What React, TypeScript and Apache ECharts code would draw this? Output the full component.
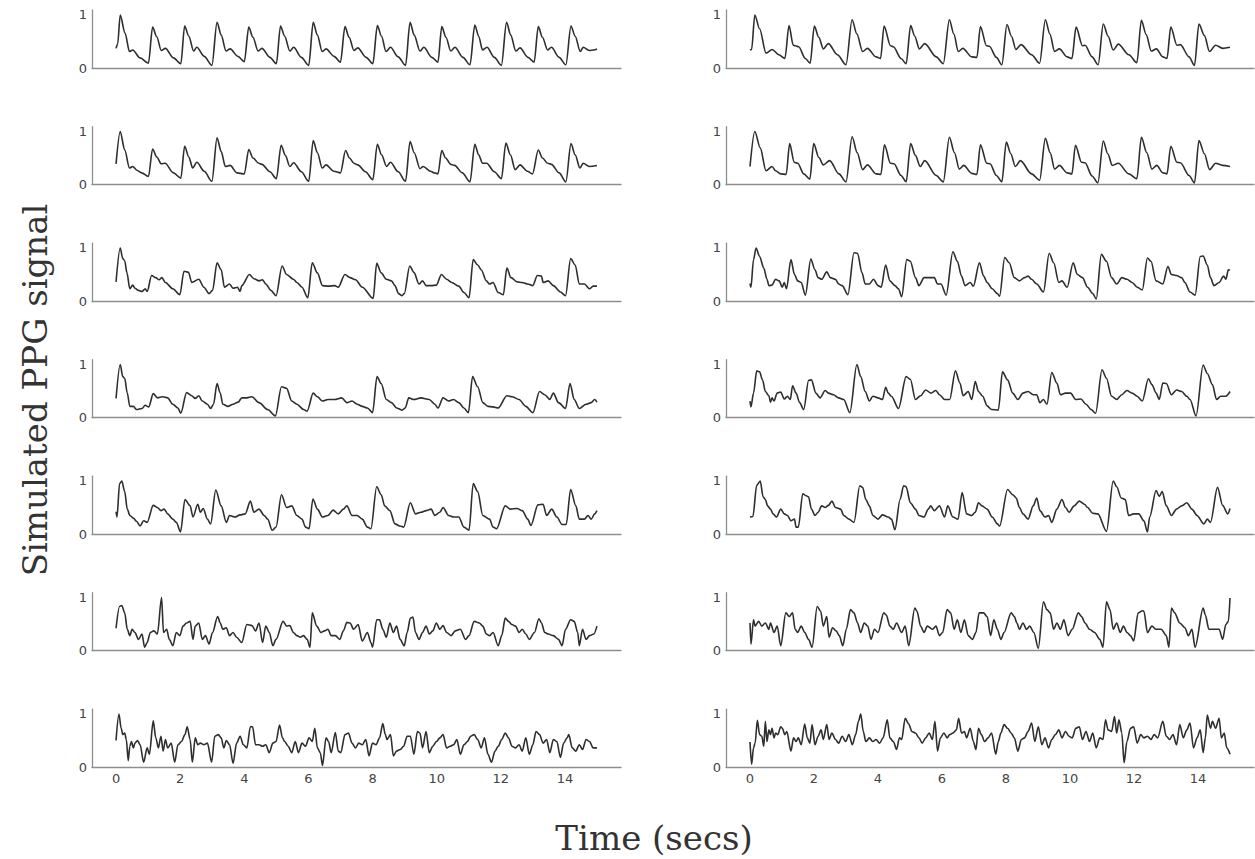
import React, { useEffect, useRef } from "react";
import * as echarts from "echarts";

type P = [number, number];

// Time (s), normalised PPG value
const leftRow1: P[] = [
  [0,0.37],[0.05,0.45],[0.13,1.0],[0.28,0.66],[0.42,0.31],[0.52,0.34],[0.75,0.19],[1.01,0.09],
  [1.14,0.77],[1.27,0.59],[1.41,0.33],[1.54,0.37],[1.79,0.19],[2.02,0.08],
  [2.14,0.79],[2.27,0.6],[2.42,0.32],[2.52,0.39],[2.75,0.22],[2.99,0.05],
  [3.15,0.86],[3.28,0.62],[3.43,0.32],[3.56,0.36],[3.8,0.22],[4.0,0.12],
  [4.14,0.77],[4.27,0.58],[4.43,0.32],[4.55,0.37],[4.8,0.2],[5.0,0.08],
  [5.13,0.79],[5.26,0.6],[5.42,0.32],[5.54,0.39],[5.78,0.2],[6.01,0.05],
  [6.15,0.86],[6.28,0.62],[6.43,0.31],[6.55,0.36],[6.8,0.22],[7.0,0.11],
  [7.14,0.78],[7.27,0.58],[7.42,0.33],[7.54,0.38],[7.8,0.2],[8.01,0.08],
  [8.15,0.8],[8.28,0.6],[8.42,0.31],[8.56,0.39],[8.8,0.21],[9.03,0.05],
  [9.17,0.86],[9.3,0.62],[9.48,0.32],[9.6,0.39],[9.85,0.2],[10.04,0.11],
  [10.16,0.78],[10.29,0.58],[10.44,0.32],[10.57,0.39],[10.82,0.2],[11.04,0.06],
  [11.19,0.81],[11.31,0.6],[11.43,0.34],[11.57,0.39],[11.8,0.2],[12.02,0.05],
  [12.18,0.86],[12.31,0.62],[12.47,0.32],[12.6,0.38],[12.85,0.2],[13.04,0.11],
  [13.17,0.78],[13.3,0.58],[13.46,0.34],[13.58,0.39],[13.82,0.2],[14.03,0.06],
  [14.19,0.79],[14.32,0.6],[14.48,0.31],[14.57,0.39],[14.76,0.33],[14.9,0.34],[15.0,0.36],
];

const leftRow2: P[] = [
  [0,0.39],[0.13,1.0],[0.27,0.65],[0.42,0.31],[0.52,0.34],[0.65,0.27],[0.8,0.22],[1.01,0.15],
  [1.14,0.67],[1.27,0.52],[1.41,0.39],[1.53,0.4],[1.79,0.22],[2.02,0.12],
  [2.14,0.72],[2.27,0.52],[2.39,0.31],[2.52,0.42],[2.75,0.25],[2.99,0.06],
  [3.15,0.88],[3.28,0.62],[3.41,0.34],[3.56,0.36],[3.77,0.22],[4.0,0.2],
  [4.14,0.66],[4.27,0.5],[4.45,0.4],[4.55,0.38],[4.8,0.24],[5.0,0.11],
  [5.15,0.74],[5.28,0.55],[5.42,0.34],[5.54,0.41],[5.78,0.24],[6.01,0.06],
  [6.15,0.83],[6.28,0.6],[6.43,0.31],[6.55,0.37],[6.79,0.25],[7.0,0.22],
  [7.16,0.64],[7.28,0.5],[7.42,0.4],[7.54,0.37],[7.78,0.24],[8.01,0.09],
  [8.15,0.76],[8.28,0.56],[8.44,0.34],[8.56,0.42],[8.8,0.24],[9.03,0.06],
  [9.17,0.81],[9.3,0.6],[9.48,0.3],[9.58,0.34],[9.81,0.25],[9.92,0.22],[10.04,0.2],
  [10.16,0.64],[10.28,0.5],[10.44,0.38],[10.56,0.36],[10.8,0.22],[11.04,0.05],
  [11.19,0.76],[11.31,0.56],[11.43,0.4],[11.56,0.4],[11.8,0.24],[12.02,0.11],
  [12.16,0.78],[12.3,0.56],[12.45,0.28],[12.6,0.37],[12.83,0.25],[12.99,0.2],
  [13.17,0.65],[13.3,0.5],[13.46,0.4],[13.58,0.38],[13.82,0.22],[14.03,0.05],
  [14.19,0.77],[14.32,0.56],[14.47,0.31],[14.57,0.4],[14.76,0.34],[15.0,0.36],
];

const leftRow3: P[] = [
  [0,0.36],[0.13,1.0],[0.21,0.8],[0.27,0.76],[0.34,0.53],[0.43,0.23],[0.52,0.3],[0.59,0.24],
  [0.7,0.2],[0.81,0.18],[0.91,0.23],[0.97,0.18],[1.11,0.48],[1.24,0.44],[1.34,0.4],[1.43,0.44],
  [1.54,0.35],[1.77,0.23],[1.99,0.12],[2.12,0.56],[2.26,0.54],[2.36,0.35],[2.58,0.41],[2.74,0.26],
  [2.9,0.14],[3.01,0.2],[3.15,0.72],[3.28,0.59],[3.38,0.26],[3.54,0.32],[3.65,0.24],[3.79,0.26],
  [3.87,0.18],[3.92,0.29],[4.16,0.5],[4.3,0.42],[4.46,0.38],[4.57,0.4],[4.67,0.32],[4.83,0.2],
  [4.99,0.1],[5.18,0.66],[5.32,0.5],[5.53,0.41],[5.64,0.35],[5.8,0.26],[5.98,0.06],[6.12,0.72],
  [6.28,0.53],[6.44,0.29],[6.61,0.28],[6.82,0.29],[6.93,0.26],[7.14,0.5],[7.3,0.44],[7.47,0.4],
  [7.68,0.26],[8.02,0.05],[8.13,0.71],[8.27,0.53],[8.43,0.41],[8.59,0.38],[8.7,0.29],[8.81,0.14],
  [8.92,0.1],[8.99,0.14],[9.16,0.66],[9.29,0.54],[9.45,0.32],[9.56,0.38],[9.67,0.29],[9.83,0.29],
  [9.99,0.3],[10.15,0.5],[10.31,0.41],[10.47,0.35],[10.69,0.28],[10.85,0.16],[11.01,0.06],[11.14,0.78],
  [11.28,0.68],[11.39,0.59],[11.55,0.38],[11.65,0.32],[11.76,0.35],[11.92,0.16],[12.08,0.12],[12.19,0.62],
  [12.32,0.44],[12.51,0.36],[12.67,0.35],[12.84,0.32],[13.0,0.29],[13.14,0.48],[13.27,0.47],[13.32,0.35],
  [13.48,0.38],[13.64,0.29],[13.86,0.17],[14.02,0.1],[14.18,0.8],[14.32,0.68],[14.45,0.32],[14.61,0.32],
  [14.77,0.23],[14.88,0.28],[15.0,0.28],
];

const leftRow4: P[] = [
  [0,0.36],[0.13,1.0],[0.21,0.77],[0.27,0.74],[0.35,0.46],[0.43,0.21],[0.54,0.21],[0.64,0.15],
  [0.81,0.17],[0.91,0.23],[1.02,0.2],[1.16,0.45],[1.29,0.37],[1.45,0.39],[1.61,0.37],[1.77,0.25],
  [1.93,0.18],[2.02,0.08],[2.2,0.47],[2.36,0.41],[2.47,0.36],[2.58,0.41],[2.69,0.31],[2.85,0.25],
  [2.95,0.17],[3.04,0.25],[3.15,0.64],[3.25,0.46],[3.33,0.25],[3.49,0.21],[3.65,0.25],[3.81,0.29],
  [3.92,0.37],[4.08,0.37],[4.24,0.39],[4.46,0.28],[4.73,0.15],[4.97,0.03],[5.16,0.58],[5.32,0.55],
  [5.48,0.31],[5.64,0.25],[5.85,0.15],[5.96,0.12],[6.15,0.46],[6.28,0.39],[6.44,0.31],[6.61,0.34],
  [6.82,0.34],[7.04,0.37],[7.2,0.28],[7.36,0.31],[7.52,0.25],[7.68,0.21],[7.84,0.18],[8.0,0.09],
  [8.14,0.77],[8.27,0.64],[8.43,0.34],[8.59,0.28],[8.75,0.18],[8.92,0.14],[9.02,0.18],[9.13,0.37],
  [9.29,0.34],[9.51,0.37],[9.77,0.34],[9.94,0.25],[10.04,0.18],[10.2,0.37],[10.37,0.31],[10.53,0.34],
  [10.69,0.28],[10.85,0.18],[10.99,0.09],[11.12,0.77],[11.28,0.58],[11.44,0.28],[11.6,0.21],[11.76,0.2],
  [11.92,0.18],[12.19,0.41],[12.35,0.39],[12.57,0.34],[12.78,0.21],[13.0,0.09],[13.21,0.49],[13.37,0.43],
  [13.53,0.34],[13.64,0.46],[13.8,0.28],[14.02,0.17],[14.16,0.64],[14.29,0.34],[14.45,0.17],[14.66,0.25],
  [14.82,0.28],[14.93,0.34],[15.0,0.29],
];

const leftRow5: P[] = [
  [0,0.42],[0.03,0.32],[0.11,0.95],[0.18,1.0],[0.27,0.8],[0.35,0.47],[0.43,0.35],[0.54,0.3],
  [0.64,0.24],[0.75,0.15],[0.86,0.25],[0.97,0.22],[1.16,0.54],[1.29,0.5],[1.4,0.44],[1.5,0.47],
  [1.61,0.38],[1.77,0.28],[1.88,0.22],[2.01,0.04],[2.15,0.65],[2.31,0.53],[2.4,0.32],[2.55,0.56],
  [2.63,0.41],[2.72,0.48],[2.85,0.28],[2.95,0.19],[3.11,0.83],[3.28,0.53],[3.44,0.22],[3.54,0.35],
  [3.71,0.32],[3.87,0.36],[4.03,0.38],[4.19,0.62],[4.3,0.41],[4.46,0.47],[4.62,0.35],[4.73,0.28],
  [4.87,0.07],[4.99,0.13],[5.16,0.74],[5.32,0.5],[5.48,0.53],[5.64,0.35],[5.8,0.28],[5.91,0.13],
  [6.02,0.1],[6.14,0.66],[6.28,0.47],[6.44,0.32],[6.61,0.35],[6.77,0.45],[6.93,0.38],[7.09,0.47],
  [7.2,0.53],[7.36,0.35],[7.52,0.35],[7.68,0.28],[7.84,0.13],[7.95,0.1],[8.13,0.89],[8.27,0.74],
  [8.38,0.53],[8.54,0.44],[8.7,0.19],[8.86,0.15],[8.97,0.13],[9.18,0.59],[9.34,0.38],[9.51,0.41],
  [9.67,0.44],[9.83,0.47],[9.94,0.35],[10.1,0.41],[10.2,0.5],[10.37,0.35],[10.53,0.32],[10.69,0.32],
  [10.85,0.13],[11.01,0.07],[11.14,0.95],[11.28,0.8],[11.44,0.35],[11.65,0.28],[11.76,0.13],[11.87,0.1],
  [12.14,0.53],[12.3,0.47],[12.51,0.48],[12.67,0.44],[12.84,0.28],[12.94,0.16],[13.16,0.55],[13.32,0.56],
  [13.43,0.35],[13.59,0.47],[13.75,0.32],[13.91,0.18],[14.04,0.18],[14.18,0.84],[14.34,0.53],[14.45,0.28],
  [14.61,0.28],[14.72,0.35],[14.82,0.28],[14.93,0.38],[15.0,0.44],
];

const leftRow6: P[] = [
  [0,0.42],[0.11,0.83],[0.18,0.85],[0.27,0.71],[0.35,0.4],[0.43,0.28],[0.5,0.4],[0.59,0.34],
  [0.7,0.21],[0.81,0.31],[0.89,0.06],[0.97,0.15],[1.07,0.34],[1.18,0.37],[1.29,0.31],[1.42,1.0],
  [1.48,0.34],[1.58,0.4],[1.66,0.21],[1.77,0.09],[1.88,0.34],[1.99,0.28],[2.09,0.46],[2.2,0.52],
  [2.31,0.55],[2.4,0.21],[2.47,0.46],[2.58,0.52],[2.69,0.21],[2.79,0.28],[2.9,0.12],[3.01,0.34],
  [3.17,0.64],[3.25,0.52],[3.33,0.4],[3.44,0.43],[3.54,0.28],[3.65,0.34],[3.76,0.25],[3.92,0.15],
  [4.08,0.49],[4.24,0.47],[4.35,0.37],[4.46,0.52],[4.57,0.15],[4.67,0.46],[4.78,0.34],[4.89,0.09],
  [4.99,0.21],[5.21,0.55],[5.32,0.46],[5.42,0.47],[5.53,0.34],[5.64,0.28],[5.75,0.25],[5.85,0.28],
  [5.96,0.21],[6.05,0.06],[6.12,0.71],[6.26,0.46],[6.39,0.34],[6.5,0.37],[6.61,0.4],[6.71,0.28],
  [6.84,0.28],[6.98,0.21],[7.09,0.37],[7.2,0.53],[7.3,0.52],[7.41,0.4],[7.55,0.49],[7.68,0.18],
  [7.84,0.34],[7.95,0.15],[8.0,0.06],[8.13,0.58],[8.22,0.58],[8.32,0.4],[8.43,0.25],[8.54,0.52],
  [8.65,0.34],[8.75,0.46],[8.86,0.21],[8.99,0.09],[9.08,0.34],[9.18,0.61],[9.26,0.63],[9.34,0.34],
  [9.45,0.21],[9.56,0.34],[9.67,0.46],[9.77,0.31],[9.88,0.37],[9.99,0.52],[10.1,0.4],[10.2,0.47],
  [10.31,0.34],[10.45,0.28],[10.58,0.37],[10.74,0.4],[10.9,0.21],[11.01,0.28],[11.17,0.55],[11.33,0.52],
  [11.44,0.46],[11.55,0.31],[11.65,0.28],[11.76,0.34],[11.92,0.09],[12.03,0.28],[12.14,0.61],[12.24,0.55],
  [12.35,0.49],[12.46,0.46],[12.57,0.34],[12.67,0.4],[12.78,0.31],[12.89,0.21],[13.05,0.34],[13.19,0.6],
  [13.27,0.52],[13.37,0.34],[13.48,0.31],[13.64,0.28],[13.8,0.21],[13.91,0.09],[14.02,0.4],[14.18,0.58],
  [14.29,0.55],[14.4,0.34],[14.45,0.09],[14.55,0.4],[14.66,0.21],[14.77,0.28],[14.9,0.31],[15.0,0.46],
];

const leftRow7: P[] = [
  [0,0.5],[0.09,1.0],[0.16,0.73],[0.21,0.61],[0.27,0.64],[0.32,0.52],[0.38,0.12],[0.43,0.39],
  [0.48,0.48],[0.54,0.36],[0.59,0.45],[0.67,0.5],[0.75,0.42],[0.86,0.09],[0.97,0.36],[1.04,0.24],
  [1.16,0.87],[1.24,0.55],[1.32,0.36],[1.4,0.58],[1.47,0.3],[1.54,0.52],[1.61,0.36],[1.72,0.45],
  [1.83,0.09],[1.93,0.42],[2.04,0.48],[2.15,0.61],[2.22,0.76],[2.31,0.52],[2.38,0.09],[2.47,0.55],
  [2.55,0.42],[2.63,0.45],[2.74,0.42],[2.85,0.45],[2.98,0.09],[3.08,0.58],[3.19,0.61],[3.28,0.55],
  [3.36,0.36],[3.44,0.5],[3.54,0.42],[3.65,0.07],[3.76,0.45],[3.87,0.58],[3.97,0.42],[4.08,0.36],
  [4.19,0.76],[4.26,0.76],[4.35,0.42],[4.46,0.42],[4.57,0.39],[4.67,0.42],[4.78,0.27],[4.89,0.45],
  [4.99,0.48],[5.1,0.79],[5.19,0.55],[5.26,0.48],[5.37,0.39],[5.48,0.27],[5.59,0.48],[5.69,0.27],
  [5.8,0.45],[5.91,0.39],[6.02,0.55],[6.12,0.48],[6.2,0.73],[6.28,0.36],[6.37,0.27],[6.44,0.03],
  [6.55,0.55],[6.63,0.48],[6.71,0.27],[6.84,0.65],[6.93,0.3],[7.01,0.27],[7.14,0.61],[7.25,0.64],
  [7.36,0.45],[7.47,0.36],[7.57,0.45],[7.68,0.42],[7.79,0.52],[7.89,0.21],[8.0,0.45],[8.11,0.42],
  [8.22,0.55],[8.32,0.82],[8.4,0.61],[8.45,0.52],[8.56,0.61],[8.65,0.21],[8.75,0.3],[8.86,0.33],
  [8.97,0.39],[9.08,0.58],[9.18,0.58],[9.29,0.24],[9.4,0.67],[9.48,0.64],[9.56,0.36],[9.67,0.67],
  [9.77,0.27],[9.88,0.39],[9.99,0.48],[10.1,0.55],[10.2,0.61],[10.31,0.36],[10.42,0.39],[10.53,0.42],
  [10.63,0.52],[10.74,0.24],[10.85,0.42],[10.96,0.48],[11.06,0.58],[11.17,0.61],[11.28,0.52],[11.39,0.36],
  [11.49,0.55],[11.6,0.24],[11.71,0.09],[11.82,0.3],[11.92,0.39],[12.03,0.52],[12.14,0.64],[12.24,0.55],
  [12.35,0.39],[12.46,0.36],[12.57,0.42],[12.67,0.3],[12.78,0.55],[12.89,0.24],[13.0,0.42],[13.1,0.67],
  [13.21,0.61],[13.32,0.45],[13.43,0.52],[13.53,0.27],[13.64,0.52],[13.75,0.48],[13.86,0.18],[13.96,0.45],
  [14.07,0.55],[14.12,0.61],[14.23,0.36],[14.34,0.3],[14.45,0.42],[14.55,0.33],[14.66,0.52],[14.77,0.48],
  [14.88,0.36],[15.0,0.36],
];

const rightRow1: P[] = [
  [0,0.34],[0.05,0.35],[0.15,1.0],[0.3,0.74],[0.5,0.28],[0.69,0.35],[0.9,0.25],[1.09,0.18],
  [1.22,0.8],[1.35,0.43],[1.41,0.42],[1.52,0.4],[1.73,0.18],[1.88,0.09],
  [2.01,0.79],[2.15,0.58],[2.29,0.36],[2.45,0.46],[2.73,0.25],[3.0,0.06],
  [3.19,0.91],[3.34,0.64],[3.52,0.31],[3.67,0.37],[3.94,0.21],[4.08,0.18],
  [4.19,0.79],[4.39,0.42],[4.48,0.4],[4.72,0.18],[4.88,0.08],
  [5.02,0.8],[5.15,0.6],[5.29,0.36],[5.46,0.46],[5.82,0.21],[6.04,0.08],
  [6.23,0.91],[6.37,0.64],[6.51,0.31],[6.65,0.37],[6.93,0.21],[7.09,0.2],
  [7.2,0.78],[7.39,0.42],[7.48,0.41],[7.7,0.2],[7.87,0.06],
  [8.03,0.82],[8.17,0.6],[8.31,0.35],[8.47,0.44],[8.8,0.25],[9.05,0.09],
  [9.23,0.91],[9.37,0.64],[9.52,0.31],[9.67,0.36],[9.91,0.21],[10.06,0.18],
  [10.19,0.77],[10.39,0.42],[10.47,0.43],[10.69,0.21],[10.88,0.06],
  [11.04,0.83],[11.19,0.6],[11.35,0.34],[11.51,0.45],[11.84,0.25],[12.09,0.1],
  [12.23,0.9],[12.38,0.63],[12.54,0.32],[12.7,0.36],[12.9,0.21],[13.03,0.18],
  [13.15,0.77],[13.34,0.43],[13.45,0.44],[13.72,0.21],[13.89,0.05],
  [14.03,0.83],[14.2,0.61],[14.36,0.31],[14.55,0.43],[14.77,0.37],[15.0,0.39],
];

const rightRow2: P[] = [
  [0,0.34],[0.15,1.0],[0.32,0.69],[0.5,0.26],[0.69,0.34],[0.8,0.26],[0.96,0.2],[1.13,0.19],
  [1.24,0.77],[1.38,0.42],[1.49,0.4],[1.68,0.2],[1.87,0.1],
  [1.99,0.77],[2.15,0.51],[2.29,0.37],[2.49,0.45],[2.78,0.2],[3.0,0.05],
  [3.19,0.9],[3.35,0.6],[3.52,0.28],[3.67,0.37],[3.94,0.2],[4.09,0.19],
  [4.2,0.75],[4.39,0.4],[4.5,0.39],[4.72,0.17],[4.88,0.05],
  [5.02,0.77],[5.17,0.55],[5.32,0.34],[5.46,0.45],[5.82,0.17],[6.04,0.05],
  [6.23,0.89],[6.39,0.6],[6.54,0.29],[6.68,0.36],[6.93,0.21],[7.09,0.19],
  [7.2,0.75],[7.4,0.4],[7.5,0.39],[7.7,0.17],[7.87,0.05],
  [8.01,0.8],[8.15,0.58],[8.29,0.34],[8.45,0.45],[8.8,0.2],[9.05,0.08],
  [9.23,0.87],[9.38,0.6],[9.52,0.29],[9.67,0.36],[9.91,0.22],[10.06,0.2],
  [10.17,0.74],[10.36,0.42],[10.47,0.41],[10.69,0.16],[10.87,0.03],
  [11.04,0.82],[11.18,0.58],[11.32,0.36],[11.51,0.4],[11.84,0.2],[12.09,0.11],
  [12.23,0.89],[12.4,0.6],[12.56,0.29],[12.71,0.36],[12.9,0.22],[13.03,0.2],
  [13.15,0.72],[13.34,0.42],[13.45,0.41],[13.72,0.17],[13.89,0.03],
  [14.03,0.83],[14.2,0.58],[14.36,0.28],[14.55,0.4],[14.77,0.36],[15.0,0.34],
];

const rightRow3: P[] = [
  [0,0.33],[0.03,0.26],[0.11,0.78],[0.19,1.0],[0.3,0.84],[0.43,0.62],[0.53,0.41],[0.59,0.29],
  [0.69,0.3],[0.8,0.41],[0.91,0.38],[1.01,0.26],[1.07,0.35],[1.14,0.23],[1.28,0.78],[1.39,0.5],
  [1.49,0.38],[1.6,0.35],[1.73,0.11],[1.9,0.79],[2.03,0.59],[2.13,0.44],[2.24,0.41],[2.4,0.55],
  [2.51,0.44],[2.67,0.41],[2.77,0.32],[2.88,0.29],[3.06,0.12],[3.25,0.91],[3.36,0.9],[3.5,0.53],
  [3.6,0.32],[3.73,0.32],[3.86,0.41],[4.0,0.29],[4.1,0.26],[4.24,0.68],[4.37,0.38],[4.53,0.29],
  [4.64,0.23],[4.74,0.08],[4.9,0.78],[5.01,0.75],[5.17,0.44],[5.28,0.29],[5.44,0.44],[5.6,0.44],
  [5.76,0.44],[5.86,0.32],[5.97,0.32],[6.13,0.11],[6.34,0.93],[6.48,0.75],[6.61,0.47],[6.72,0.29],
  [6.88,0.35],[6.98,0.28],[7.17,0.72],[7.3,0.47],[7.41,0.35],[7.57,0.23],[7.73,0.14],[7.8,0.09],
  [7.96,0.82],[8.1,0.72],[8.26,0.44],[8.42,0.38],[8.58,0.44],[8.69,0.47],[8.8,0.41],[8.96,0.32],
  [9.17,0.17],[9.35,0.9],[9.49,0.72],[9.65,0.35],[9.75,0.38],[9.91,0.26],[10.1,0.72],[10.23,0.5],
  [10.39,0.44],[10.55,0.26],[10.71,0.14],[10.82,0.04],[10.98,0.88],[11.14,0.75],[11.3,0.44],[11.46,0.32],
  [11.62,0.44],[11.78,0.41],[11.94,0.35],[12.1,0.26],[12.26,0.21],[12.42,0.81],[12.53,0.75],[12.69,0.38],
  [12.9,0.32],[13.06,0.65],[13.17,0.5],[13.33,0.48],[13.49,0.44],[13.59,0.35],[13.75,0.17],[13.91,0.11],
  [14.07,0.84],[14.16,0.85],[14.29,0.68],[14.39,0.44],[14.5,0.29],[14.66,0.35],[14.8,0.47],[14.87,0.41],
  [14.95,0.59],[15.0,0.58],
];

const rightRow4: P[] = [
  [0,0.31],[0.03,0.2],[0.11,0.46],[0.21,0.88],[0.3,0.86],[0.39,0.71],[0.48,0.49],[0.59,0.41],
  [0.64,0.29],[0.69,0.37],[0.75,0.31],[0.85,0.46],[0.96,0.48],[1.07,0.35],[1.17,0.4],[1.26,0.34],
  [1.33,0.6],[1.44,0.46],[1.55,0.28],[1.68,0.15],[1.83,0.7],[1.92,0.71],[2.06,0.46],[2.19,0.37],
  [2.35,0.51],[2.45,0.46],[2.61,0.43],[2.77,0.37],[2.93,0.34],[3.12,0.09],[3.34,1.0],[3.46,0.77],
  [3.6,0.49],[3.73,0.31],[3.84,0.4],[4.0,0.37],[4.14,0.34],[4.24,0.57],[4.32,0.46],[4.42,0.4],
  [4.64,0.17],[4.88,0.77],[5.01,0.72],[5.17,0.34],[5.33,0.41],[5.49,0.52],[5.65,0.46],[5.81,0.51],
  [5.92,0.43],[6.08,0.34],[6.24,0.34],[6.42,0.88],[6.56,0.65],[6.66,0.41],[6.82,0.49],[6.93,0.34],
  [7.04,0.68],[7.14,0.49],[7.27,0.4],[7.41,0.22],[7.55,0.15],[7.76,0.14],[7.89,0.86],[8.05,0.71],
  [8.21,0.46],[8.37,0.34],[8.53,0.46],[8.69,0.49],[8.85,0.43],[8.96,0.43],[9.06,0.28],[9.17,0.34],
  [9.28,0.25],[9.43,0.85],[9.59,0.65],[9.7,0.43],[9.86,0.46],[10.02,0.46],[10.18,0.34],[10.34,0.35],
  [10.5,0.25],[10.66,0.15],[10.8,0.08],[11.0,0.9],[11.14,0.74],[11.3,0.4],[11.46,0.34],[11.62,0.43],
  [11.78,0.51],[11.94,0.46],[12.1,0.4],[12.26,0.31],[12.45,0.73],[12.56,0.62],[12.69,0.46],[12.79,0.34],
  [12.9,0.65],[13.01,0.64],[13.17,0.43],[13.33,0.52],[13.49,0.49],[13.65,0.4],[13.75,0.34],[13.94,0.03],
  [14.16,0.99],[14.29,0.83],[14.45,0.62],[14.58,0.34],[14.71,0.4],[14.87,0.4],[15.0,0.49],
];

const rightRow5: P[] = [
  [0,0.32],[0.09,0.33],[0.21,0.92],[0.32,1.0],[0.41,0.7],[0.48,0.65],[0.55,0.53],[0.64,0.47],
  [0.72,0.38],[0.83,0.32],[0.96,0.47],[1.07,0.38],[1.17,0.35],[1.28,0.25],[1.39,0.28],[1.44,0.13],
  [1.51,0.13],[1.65,0.76],[1.76,0.72],[1.83,0.7],[1.92,0.47],[2.03,0.35],[2.13,0.41],[2.24,0.53],
  [2.35,0.5],[2.45,0.54],[2.56,0.62],[2.67,0.5],[2.83,0.47],[2.93,0.35],[3.09,0.28],[3.25,0.22],
  [3.43,0.91],[3.52,0.88],[3.62,0.65],[3.73,0.53],[3.84,0.35],[4.0,0.28],[4.14,0.36],[4.32,0.32],
  [4.42,0.28],[4.53,0.08],[4.69,0.65],[4.8,0.91],[4.88,0.89],[5.01,0.59],[5.17,0.47],[5.28,0.35],
  [5.44,0.32],[5.57,0.47],[5.65,0.53],[5.76,0.44],[5.92,0.53],[6.08,0.32],[6.18,0.53],[6.34,0.32],
  [6.5,0.28],[6.63,0.78],[6.77,0.38],[6.93,0.35],[7.04,0.41],[7.14,0.59],[7.25,0.53],[7.41,0.47],
  [7.57,0.32],[7.73,0.19],[7.8,0.15],[8.05,0.84],[8.21,0.74],[8.32,0.68],[8.42,0.5],[8.53,0.38],
  [8.69,0.28],[8.85,0.53],[8.96,0.68],[9.06,0.44],[9.22,0.32],[9.33,0.35],[9.43,0.22],[9.59,0.47],
  [9.75,0.65],[9.86,0.5],[9.97,0.41],[10.13,0.53],[10.29,0.62],[10.45,0.56],[10.55,0.5],[10.71,0.39],
  [10.87,0.38],[11.14,0.05],[11.35,1.0],[11.46,0.89],[11.6,0.68],[11.73,0.65],[11.83,0.35],[11.99,0.38],
  [12.15,0.38],[12.31,0.25],[12.42,0.04],[12.49,0.32],[12.69,0.82],[12.79,0.71],[12.88,0.8],[13.01,0.53],
  [13.17,0.35],[13.33,0.47],[13.49,0.53],[13.65,0.59],[13.81,0.47],[13.97,0.35],[14.18,0.19],[14.29,0.28],
  [14.39,0.22],[14.61,0.88],[14.77,0.54],[14.93,0.38],[15.0,0.48],
];

const rightRow6: P[] = [
  [0,0.52],[0.03,0.12],[0.11,0.58],[0.16,0.46],[0.27,0.55],[0.37,0.46],[0.48,0.52],[0.59,0.4],
  [0.64,0.52],[0.75,0.34],[0.85,0.46],[0.96,0.09],[1.12,0.71],[1.23,0.64],[1.33,0.71],[1.41,0.4],
  [1.49,0.34],[1.6,0.46],[1.71,0.34],[1.83,0.21],[1.94,0.06],[2.1,0.83],[2.21,0.74],[2.29,0.46],
  [2.4,0.64],[2.47,0.25],[2.58,0.43],[2.69,0.37],[2.79,0.28],[2.9,0.09],[3.01,0.4],[3.14,0.77],
  [3.25,0.71],[3.36,0.52],[3.46,0.34],[3.57,0.52],[3.68,0.46],[3.78,0.21],[3.89,0.4],[4.0,0.34],
  [4.18,0.71],[4.26,0.67],[4.37,0.46],[4.48,0.4],[4.58,0.52],[4.74,0.34],[4.85,0.46],[4.96,0.09],
  [5.15,0.8],[5.22,0.74],[5.33,0.46],[5.44,0.34],[5.54,0.46],[5.7,0.4],[5.81,0.46],[5.92,0.28],
  [6.02,0.34],[6.16,0.77],[6.27,0.71],[6.38,0.4],[6.48,0.58],[6.59,0.34],[6.7,0.58],[6.82,0.28],
  [6.95,0.21],[7.06,0.34],[7.16,0.71],[7.3,0.71],[7.41,0.64],[7.52,0.28],[7.62,0.58],[7.73,0.4],
  [7.84,0.21],[7.94,0.34],[8.16,0.71],[8.26,0.64],[8.34,0.52],[8.42,0.4],[8.53,0.52],[8.64,0.4],
  [8.74,0.46],[8.87,0.34],[9.01,0.04],[9.17,0.92],[9.28,0.77],[9.38,0.71],[9.49,0.4],[9.59,0.52],
  [9.7,0.4],[9.81,0.58],[9.94,0.28],[10.07,0.4],[10.26,0.71],[10.36,0.64],[10.47,0.52],[10.61,0.4],
  [10.77,0.34],[10.93,0.21],[11.03,0.06],[11.14,0.92],[11.25,0.77],[11.35,0.4],[11.46,0.52],[11.57,0.34],
  [11.67,0.46],[11.78,0.34],[11.89,0.28],[11.99,0.18],[12.13,0.71],[12.26,0.75],[12.31,0.74],[12.42,0.34],
  [12.56,0.46],[12.69,0.4],[12.85,0.4],[13.01,0.28],[13.09,0.06],[13.17,0.8],[13.27,0.71],[13.43,0.52],
  [13.59,0.43],[13.7,0.28],[13.81,0.4],[13.91,0.06],[14.16,0.8],[14.23,0.67],[14.34,0.4],[14.5,0.4],
  [14.66,0.4],[14.77,0.21],[14.87,0.49],[14.95,0.55],[15.0,0.99],
];

const rightRow7: P[] = [
  [0,0.47],[0.05,0.05],[0.11,0.36],[0.16,0.45],[0.23,0.88],[0.3,0.61],[0.37,0.58],[0.43,0.39],
  [0.48,0.86],[0.53,0.48],[0.59,0.7],[0.64,0.61],[0.69,0.73],[0.75,0.55],[0.8,0.64],[0.87,0.61],
  [0.96,0.76],[1.01,0.73],[1.09,0.61],[1.15,0.67],[1.28,0.3],[1.36,0.55],[1.44,0.48],[1.51,0.55],
  [1.6,0.42],[1.71,0.81],[1.79,0.55],[1.87,0.45],[1.94,0.8],[2.03,0.42],[2.13,0.58],[2.22,0.7],
  [2.29,0.52],[2.4,0.8],[2.47,0.52],[2.56,0.64],[2.67,0.52],[2.77,0.45],[2.88,0.58],[2.99,0.48],
  [3.09,0.61],[3.2,0.42],[3.3,0.61],[3.39,0.86],[3.46,1.0],[3.54,0.67],[3.62,0.48],[3.73,0.55],
  [3.84,0.48],[3.94,0.52],[4.05,0.45],[4.16,0.55],[4.29,0.89],[4.37,0.55],[4.48,0.48],[4.58,0.33],
  [4.67,0.55],[4.74,0.52],[4.85,0.92],[4.96,0.81],[5.06,0.67],[5.17,0.64],[5.28,0.55],[5.38,0.45],
  [5.49,0.55],[5.6,0.64],[5.7,0.52],[5.78,0.86],[5.86,0.3],[5.95,0.55],[6.06,0.64],[6.16,0.55],
  [6.24,0.61],[6.34,0.64],[6.45,0.7],[6.52,0.92],[6.61,0.64],[6.7,0.67],[6.77,0.55],[6.88,0.73],
  [6.98,0.48],[7.06,0.33],[7.14,0.73],[7.23,0.61],[7.33,0.48],[7.44,0.55],[7.55,0.64],[7.68,0.24],
  [7.76,0.48],[7.84,0.64],[7.94,0.8],[8.05,0.73],[8.16,0.64],[8.26,0.55],[8.37,0.3],[8.48,0.52],
  [8.58,0.55],[8.69,0.67],[8.8,0.83],[8.9,0.48],[9.01,0.76],[9.12,0.42],[9.22,0.55],[9.33,0.36],
  [9.43,0.52],[9.54,0.61],[9.65,0.7],[9.75,0.55],[9.86,0.67],[9.97,0.58],[10.07,0.55],[10.18,0.73],
  [10.29,0.76],[10.39,0.52],[10.5,0.67],[10.61,0.48],[10.71,0.64],[10.82,0.36],[10.93,0.55],[11.03,0.52],
  [11.11,0.89],[11.19,0.7],[11.3,0.67],[11.39,0.95],[11.46,0.64],[11.53,0.89],[11.62,0.64],[11.69,0.08],
  [11.78,0.48],[11.89,0.73],[11.99,0.76],[12.1,0.45],[12.21,0.61],[12.31,0.55],[12.42,0.58],[12.53,0.52],
  [12.63,0.61],[12.74,0.55],[12.9,0.86],[13.01,0.58],[13.11,0.52],[13.22,0.61],[13.33,0.42],[13.43,0.8],
  [13.54,0.55],[13.65,0.7],[13.75,0.83],[13.86,0.36],[13.97,0.55],[14.07,0.7],[14.16,0.27],[14.23,0.55],
  [14.29,0.98],[14.39,0.73],[14.45,0.86],[14.55,0.73],[14.66,0.92],[14.73,0.55],[14.82,0.64],[14.9,0.36],
  [15.0,0.24],
];

const leftPanels: P[][] = [leftRow1, leftRow2, leftRow3, leftRow4, leftRow5, leftRow6, leftRow7];
const rightPanels: P[][] = [rightRow1, rightRow2, rightRow3, rightRow4, rightRow5, rightRow6, rightRow7];
const xTicks = [0, 2, 4, 6, 8, 10, 12, 14];
const yTicks = [0, 1];
const xLabelText = "Time (secs)";
const yLabelText = "Simulated PPG signal";

export default function App() {
  const ref = useRef<HTMLDivElement>(null);
  useEffect(() => {
    document.body.style.margin = "0";
    if (!ref.current) return;
    const chart = echarts.init(ref.current, undefined, { renderer: "svg" });
    const grids: any[] = [];
    const xAxes: any[] = [];
    const yAxes: any[] = [];
    const series: any[] = [];
    const rows = 7;
    const spineColor = "#8e8e8e";
    const labelColor = "#444";
    const cols: { left: number; width: number; data: P[][] }[] = [
      { left: 92, width: 529, data: leftPanels },
      { left: 726, width: 528, data: rightPanels },
    ];
    let idx = 0;
    cols.forEach((c) => {
      for (let r = 0; r < rows; r++) {
        grids.push({ left: c.left, width: c.width, top: 10.2 + 116.5 * r, height: 57.8 });
        const bottom = r === rows - 1;
        xAxes.push({
          type: "value",
          gridIndex: idx,
          min: -0.75,
          max: 15.75,
          axisLine: { show: true, onZero: false, lineStyle: { color: spineColor, width: 1.3 } },
          axisTick: { show: false },
          splitLine: { show: false },
          axisLabel: {
            show: bottom,
            customValues: xTicks,
            color: labelColor,
            fontSize: 13,
            fontFamily: "DejaVu Sans",
            margin: 5,
          },
        });
        yAxes.push({
          type: "value",
          gridIndex: idx,
          min: 0,
          max: 1.09,
          axisLine: { show: true, onZero: false, lineStyle: { color: spineColor, width: 1.3 } },
          axisTick: { show: false },
          splitLine: { show: false },
          axisLabel: {
            customValues: yTicks,
            color: labelColor,
            fontSize: 13,
            fontFamily: "DejaVu Sans",
            margin: 5,
          },
        });
        series.push({
          type: "line",
          xAxisIndex: idx,
          yAxisIndex: idx,
          data: c.data[r],
          showSymbol: false,
          symbol: "none",
          smooth: 0.3,
          smoothMonotone: "x",
          lineStyle: { color: "#2e2e2e", width: 1.6 },
          silent: true,
        });
        idx++;
      }
    });
    chart.setOption({
      animation: false,
      backgroundColor: "#ffffff",
      grid: grids,
      xAxis: xAxes,
      yAxis: yAxes,
      series,
      graphic: [
        {
          type: "text",
          x: 654,
          y: 838,
          style: {
            text: xLabelText,
            font: '34px "DejaVu Serif"',
            fill: "#333",
            align: "center",
            verticalAlign: "middle",
          },
        },
        {
          type: "text",
          x: 35,
          y: 390,
          rotation: Math.PI / 2,
          style: {
            text: yLabelText,
            font: '34px "DejaVu Serif"',
            fill: "#333",
            align: "center",
            verticalAlign: "middle",
          },
        },
      ],
    });
    return () => chart.dispose();
  }, []);
  return <div ref={ref} style={{ width: 1255, height: 859 }} />;
}
